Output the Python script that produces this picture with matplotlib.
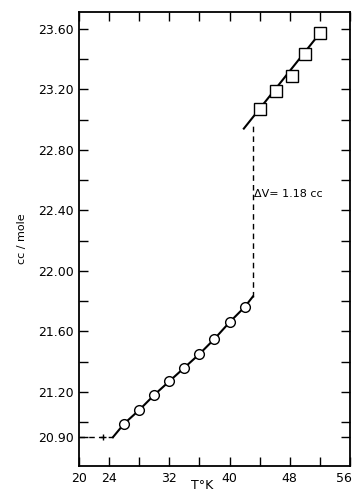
import matplotlib
matplotlib.use("Agg")
import matplotlib.pyplot as plt
from matplotlib.transforms import ScaledTranslation

# Data
liquid_T = [26, 28, 30, 32, 34, 36, 38, 40, 42]
liquid_V = [20.99, 21.08, 21.18, 21.27, 21.36, 21.45, 21.55, 21.66, 21.76]
solid_T = [44, 46.2, 48.3, 50, 52]
solid_V = [23.07, 23.19, 23.29, 23.43, 23.57]

# fitted curves drawn through the points
lower_T = [24.5, 26, 28, 30, 32, 34, 36, 38, 40, 42, 43.1]
lower_V = [20.90, 20.99, 21.08, 21.18, 21.27, 21.36, 21.45, 21.55, 21.66, 21.76, 21.83]
upper_T = [41.9, 52]
upper_V = [22.94, 23.57]

# dashed extension and the jump
ext_T = [20, 24.5]
ext_V = [20.90, 20.90]
jump_T = [43.1, 43.1]
jump_V = [21.83, 22.98]

xticks = [20, 24, 28, 32, 36, 40, 44, 48, 52, 56]
xlabels = ['20', '24', '', '32', '', '40', '', '48', '', '56']
yticks = [20.90, 21.00, 21.20, 21.40, 21.60, 21.80, 22.00, 22.20, 22.40,
          22.60, 22.80, 23.00, 23.20, 23.40, 23.60]
ylabels = ['20.90', '', '21.20', '', '21.60', '', '22.00', '', '22.40',
           '', '22.80', '', '23.20', '', '23.60']

fig = plt.figure(figsize=(3.56, 4.95), dpi=100)
ax = fig.add_axes([0.222, 0.0586, 0.761, 0.917])

ax.plot(lower_T, lower_V, color='black', lw=1.5, zorder=2)
ax.plot(upper_T, upper_V, color='black', lw=1.5, zorder=2)
ax.plot(ext_T, ext_V, color='black', lw=1.0, ls=(0, (4, 3)), zorder=2)
ax.plot([23.2], [20.90], marker='+', color='black', ms=5, mew=1.0)
ax.plot(jump_T, jump_V, color='black', lw=1.0, ls=(0, (4, 3)), zorder=2)

ax.plot(liquid_T, liquid_V, 'o', ms=7, mfc='white', mec='black', mew=1.0, zorder=3)
ax.plot(solid_T, solid_V, 's', ms=8, mfc='white', mec='black', mew=1.0, zorder=3)

ax.text(43.3, 22.51, 'ΔV= 1.18 cc', fontsize=8, va='center', ha='left')

ax.set_xlim(20, 56)
ax.set_ylim(20.71, 23.71)
ax.set_xticks(xticks)
ax.set_xticklabels(xlabels)
ax.set_yticks(yticks)
ax.set_yticklabels(ylabels)
ax.tick_params(direction='in', length=6.5, width=1.0, top=True, right=True,
               labelsize=9, pad=4)
for s in ax.spines.values():
    s.set_linewidth(1.3)

# keep the last x label inside the picture
last = ax.get_xticklabels()[-1]
last.set_transform(last.get_transform() + ScaledTranslation(-4 / 72, 0, fig.dpi_scale_trans))

ax.set_ylabel('cc / mole', fontsize=8, labelpad=8)
fig.text(0.568, 0.006, 'T°K', fontsize=9, ha='center', va='bottom')

fig.savefig('out.png', dpi=100)
